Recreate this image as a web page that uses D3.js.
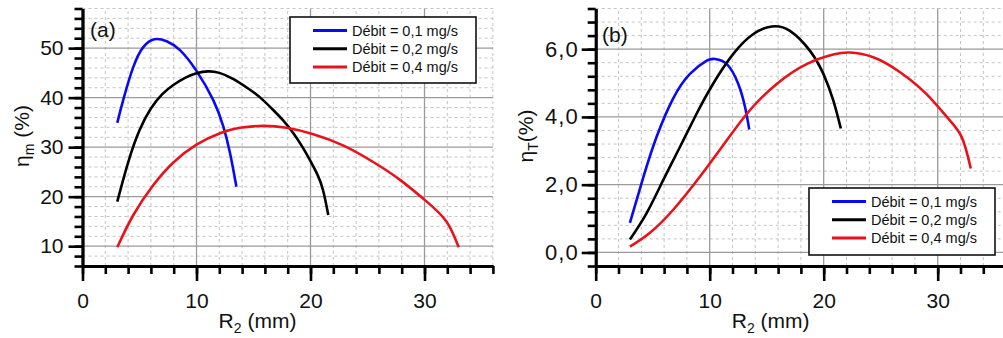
<!DOCTYPE html>
<html><head><meta charset="utf-8">
<script src="https://cdn.jsdelivr.net/npm/d3@7"></script>
<style>
html,body{margin:0;padding:0;background:#fff;}
svg{display:block;font-family:"Liberation Sans",Arial,sans-serif;}
</style></head>
<body><svg id="c" width="1003" height="338"></svg>
<script>
// ---------- DATA ----------
const seriesLabels = ["Débit = 0,1 mg/s", "Débit = 0,2 mg/s", "Débit = 0,4 mg/s"];
const seriesColors = ["#0a0af0", "#000000", "#e8131a"];

// Panel (a): eta_m (%) vs R2 (mm)
const a_x1 = [3.05, 3.58, 4.46, 5.33, 6.3, 7.38, 8.55, 10.0, 11.47, 12.35, 12.94, 13.5];
const a_y1 = [34.9, 39.6, 46.2, 50.2, 51.8, 51.4, 49.6, 45.4, 39.5, 34.2, 28.8, 22.0];
const a_x2 = [3.05, 4.0, 5.0, 6.0, 7.0, 8.0, 9.0, 10.0, 11.0, 12.0, 13.2, 14.5, 15.6, 16.6, 17.6, 18.5, 19.3, 20.0, 20.6, 21.1, 21.56];
const a_y2 = [19.0, 26.9, 33.4, 37.8, 40.7, 42.6, 44.0, 44.9, 45.3, 45.0, 43.8, 41.9, 40.0, 37.8, 35.4, 32.8, 30.0, 27.2, 24.5, 21.3, 16.3];
const a_x3 = [3.05, 4.46, 6.2, 7.97, 10.0, 12.06, 13.8, 15.86, 17.9, 20.25, 22.9, 25.5, 27.85, 30.2, 31.95, 33.0];
const a_y3 = [9.8, 16.3, 22.3, 26.9, 30.5, 32.8, 33.9, 34.3, 33.9, 32.6, 30.3, 27.0, 23.4, 19.0, 14.9, 9.8];

// Panel (b): eta_T (%) vs R2 (mm)
const b_x1 = [3.0, 4.18, 5.35, 6.8, 8.27, 9.74, 10.47, 11.5, 12.5, 13.1, 13.47];
const b_y1 = [0.87, 2.22, 3.42, 4.55, 5.27, 5.66, 5.71, 5.56, 4.98, 4.29, 3.63];
const b_x2 = [3.0, 4.47, 5.93, 7.4, 8.86, 10.3, 12.07, 13.8, 15.44, 17.04, 18.8, 19.97, 20.84, 21.5];
const b_y2 = [0.38, 1.16, 2.14, 3.12, 4.1, 4.98, 5.86, 6.44, 6.67, 6.54, 5.95, 5.27, 4.49, 3.66];
const b_x3 = [3.0, 4.76, 6.8, 9.15, 11.5, 13.5, 15.9, 18.5, 20.84, 22.3, 24.35, 26.7, 29.0, 30.8, 32.1, 32.9];
const b_y3 = [0.17, 0.58, 1.26, 2.24, 3.31, 4.19, 4.98, 5.56, 5.84, 5.9, 5.76, 5.32, 4.68, 4.0, 3.41, 2.48];

const xMajorTicks = [0, 10, 20, 30];
const xMinorTicks = d3.range(0, 36.01, 2);
const a_yMajorTicks = [10, 20, 30, 40, 50];
const a_yMinorTicks = d3.range(6, 58.01, 2);
const b_yMajorTicks = [0, 2, 4, 6];
const b_yMinorTicks = d3.range(-4, 72.1, 4).map(v => v / 10);

// ---------- DRAW ----------
const svg = d3.select("#c");

function panel(cfg) {
  const g = svg.append("g");
  const x = d3.scaleLinear().domain([0, 36]).range([cfg.left, cfg.left + 410.4]);
  const y = d3.scaleLinear().domain(cfg.yDomain).range([266, 8.5]);

  // minor grid (dashed)
  g.append("g").selectAll("line").data(xMinorTicks.filter(v => !xMajorTicks.includes(v) && v > 0))
    .join("line").attr("x1", d => x(d)).attr("x2", d => x(d)).attr("y1", y.range()[0]).attr("y2", y.range()[1])
    .attr("stroke", "#c4c4c4").attr("stroke-width", 1).attr("stroke-dasharray", "3,3");
  g.append("g").selectAll("line").data(cfg.yMinor.filter(v => !cfg.yMajor.some(m => Math.abs(m - v) < 1e-9) && v > cfg.yDomain[0] + 1e-9))
    .join("line").attr("y1", d => y(d)).attr("y2", d => y(d)).attr("x1", x.range()[0]).attr("x2", x.range()[1])
    .attr("stroke", "#c4c4c4").attr("stroke-width", 1).attr("stroke-dasharray", "3,3");
  // major grid
  g.append("g").selectAll("line").data(xMajorTicks.filter(v => v > 0))
    .join("line").attr("x1", d => x(d)).attr("x2", d => x(d)).attr("y1", y.range()[0]).attr("y2", y.range()[1])
    .attr("stroke", "#9a9a9a").attr("stroke-width", 1.3);
  g.append("g").selectAll("line").data(cfg.yMajor)
    .join("line").attr("y1", d => y(d)).attr("y2", d => y(d)).attr("x1", x.range()[0]).attr("x2", x.range()[1])
    .attr("stroke", "#9a9a9a").attr("stroke-width", 1.3);

  // series
  const line = d3.line().x(d => x(d[0])).y(d => y(d[1])).curve(d3.curveNatural);
  cfg.series.forEach((s, i) => {
    g.append("path").datum(s[0].map((v, k) => [v, s[1][k]]))
      .attr("d", line).attr("fill", "none").attr("stroke", seriesColors[i])
      .attr("stroke-width", 2.6).attr("stroke-linejoin", "round").attr("stroke-linecap", "butt");
  });

  // axes
  const xMinorAxis = d3.axisBottom(x).tickValues(xMinorTicks).tickSize(8).tickFormat("").tickSizeOuter(0);
  const xMajorAxis = d3.axisBottom(x).tickValues(xMajorTicks).tickSize(15).tickPadding(12).tickSizeOuter(0).tickFormat(d3.format("d"));
  const yMinorAxis = d3.axisLeft(y).tickValues(cfg.yMinor).tickSize(8).tickFormat("").tickSizeOuter(0);
  const yMajorAxis = d3.axisLeft(y).tickValues(cfg.yMajor).tickSize(14).tickPadding(cfg.yPad).tickSizeOuter(0).tickFormat(cfg.fmt);

  [xMinorAxis, xMajorAxis].forEach(ax => {
    const a = g.append("g").attr("transform", `translate(0,266)`).call(ax);
    styleAxis(a, "21px", 0);
  });
  [yMinorAxis, yMajorAxis].forEach(ax => {
    const a = g.append("g").attr("transform", `translate(${cfg.left},0)`).call(ax);
    styleAxis(a, cfg.yFont, cfg.yLs);
  });
  function styleAxis(a, fs, ls) {
    a.select(".domain").attr("stroke", "#000").attr("stroke-width", 2.8);
    a.selectAll(".tick line").attr("stroke", "#000").attr("stroke-width", 2.6);
    a.selectAll(".tick text").attr("fill", "#111").style("font-size", fs).style("letter-spacing", ls + "px")
      .style("font-family", '"Liberation Sans",Arial,sans-serif');
  }

  // x title
  const xt = g.append("text").attr("x", cfg.left + 175).attr("y", 328).attr("text-anchor", "middle")
    .style("font-size", "21px").attr("fill", "#111");
  xt.append("tspan").text("R");
  xt.append("tspan").text("2").style("font-size", "14px").attr("dy", 5);
  xt.append("tspan").text(" (mm)").attr("dy", -5);

  // y title
  const yt = g.append("text").attr("transform", `translate(${cfg.yTitleX},136) rotate(-90)`)
    .attr("text-anchor", "middle").style("font-size", "21px").attr("fill", "#111");
  yt.append("tspan").text("η");
  yt.append("tspan").text(cfg.sub).style("font-size", "14px").attr("dy", 5);
  yt.append("tspan").text(cfg.yTitleRest).attr("dy", -5);

  // panel label
  g.append("text").attr("x", cfg.labelX).attr("y", cfg.labelY).text(cfg.label)
    .style("font-size", "21px").attr("fill", "#111");

  // legend
  const L = cfg.legend;
  const lg = g.append("g");
  lg.append("rect").attr("x", L.x).attr("y", L.y).attr("width", L.w).attr("height", L.h)
    .attr("fill", "#fff").attr("stroke", "#111").attr("stroke-width", 1.6);
  seriesLabels.forEach((t, i) => {
    const yy = L.y + 13.5 + i * 18.3;
    lg.append("line").attr("x1", L.x + 23).attr("x2", L.x + 57).attr("y1", yy).attr("y2", yy)
      .attr("stroke", seriesColors[i]).attr("stroke-width", 3);
    lg.append("text").attr("x", L.x + 62).attr("y", yy).attr("dy", "0.36em").text(t)
      .style("font-size", "14.5px").attr("fill", "#111");
  });
}

panel({
  left: 82.5, yDomain: [6, 58], yMajor: a_yMajorTicks, yMinor: a_yMinorTicks,
  fmt: d3.format("d"), yFont: "21px", yLs: 0, yPad: 5,
  series: [[a_x1, a_y1], [a_x2, a_y2], [a_x3, a_y3]],
  sub: "m", yTitleRest: " (%)", yTitleX: 29,
  label: "(a)", labelX: 90, labelY: 37,
  legend: { x: 290, y: 17, w: 186, h: 66 }
});
panel({
  left: 595.7, yDomain: [-0.4, 7.2], yMajor: b_yMajorTicks, yMinor: b_yMinorTicks,
  fmt: d => d3.format(".1f")(d).replace(".", ","), yFont: "22px", yLs: 1, yPad: 3,
  series: [[b_x1, b_y1], [b_x2, b_y2], [b_x3, b_y3]],
  sub: "T", yTitleRest: "(%)", yTitleX: 533,
  label: "(b)", labelX: 602, labelY: 42,
  legend: { x: 809, y: 188, w: 186, h: 67 }
});
</script></body></html>
